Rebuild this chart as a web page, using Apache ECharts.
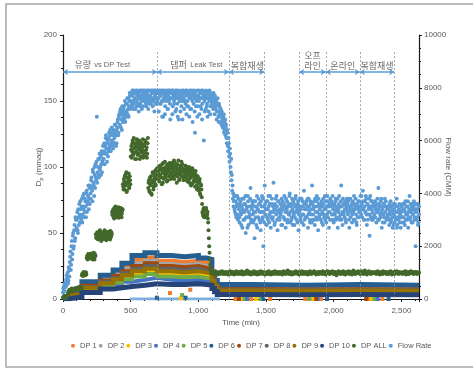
<!DOCTYPE html>
<html><head><meta charset="utf-8">
<script src="https://cdn.jsdelivr.net/npm/echarts@6/dist/echarts.min.js"></script>
<style>html,body{margin:0;padding:0;background:#fff}#c{width:473px;height:368px}</style>
</head><body><div id="c"></div>
<script>
// ---------- DATA ----------
const xTicks = [0, 500, 1000, 1500, 2000, 2500];
const sampleStep = 5;      // minutes between samples
const halfOffset = 2.5;    // second sample set is taken half-way between

// Flow rate (CMM), samples at t = 0, 5, 10, ...
const flowCMM = [
250,450,300,600,450,750,550,1000,700,1100,1400,1800,1300,2200,1700,2500,2000,2800,2300,3000,
2700,3300,2500,3100,3600,2900,3400,3000,3800,3200,3500,4000,3300,3700,3100,4100,3600,3900,3400,4200,
4300,3800,4600,4100,4900,4400,3900,4700,5100,4500,6900,4800,5300,4600,5500,5000,4700,5600,5200,5800,
5300,5900,5500,6100,5700,5200,6000,5600,6300,5800,6200,5900,6500,6000,5700,6400,6100,6600,6200,5900,
6500,6800,6300,7000,6600,7200,6800,6400,7100,6900,7300,7000,6700,7400,7100,7600,7200,6900,7500,7700,
7500,7800,7300,7700,7900,7400,7600,7200,7800,7500,7900,7600,7100,7700,7400,7900,7600,7800,7300,7700,
7900,7500,7700,7300,7800,7600,7200,7900,7500,7700,7400,7800,7600,7900,7500,7100,7700,7900,7400,7800,
7900,7600,7800,7400,7700,7900,7500,7800,6900,7600,7900,7300,7700,7500,7800,7200,7900,7600,7400,7800,
7600,7900,7300,7700,7500,7800,7100,7600,7900,7400,7700,6800,7500,7800,7600,7300,7900,7700,7500,7200,
7800,7400,7700,7900,7500,7300,7800,7600,7200,7700,7900,7500,7800,7400,7600,6300,7700,7500,7900,7300,
7700,7500,7800,7300,7600,7900,7400,7700,6000,7500,7800,7200,7600,7400,7800,7100,7500,7700,7300,7600,
7400,7700,7200,7500,7000,7600,7300,6800,7400,7100,6700,7300,6900,7200,6600,7000,6500,6900,6300,6700,
6200,6600,5900,6300,5600,5900,5200,5500,4800,4500,4100,3800,3500,3900,3300,3700,3100,3600,3200,3800,
3400,2900,3700,3200,3500,2700,3300,3800,3000,3600,2500,3400,3100,3900,2800,3500,3200,4200,3000,3400,
3600,2900,3300,2300,3700,3100,3500,2700,3400,3800,3000,3600,2600,3300,3900,3100,2000,3500,4300,3200,
3400,2800,3700,3000,3500,3200,3900,2700,3300,3600,3100,4400,3400,2900,3800,3200,3500,2600,3700,3300,
3000,3600,3300,3800,2800,3400,3100,3900,3500,2700,3300,3700,3000,3600,3200,4000,2900,3500,3100,3400,
3700,3200,2800,3500,3900,3000,3400,3600,2600,3300,3800,3100,3500,2900,3700,3200,4100,3000,3400,3600,
3100,3500,2700,3800,3300,2900,3600,3200,4300,3000,3400,3700,2800,3500,3100,3900,3300,2600,3600,3200,
3500,3000,3700,3300,2800,3600,3100,3900,3400,2900,3200,3700,3500,2700,3300,3800,3000,3600,3200,3400,
2900,3600,3300,3800,3100,3500,2700,3400,3900,3000,3200,4300,3500,2800,3600,3300,3100,3700,2900,3400,
3600,3200,3800,2700,3400,3100,3500,2900,3700,3300,3900,3000,3500,3200,2800,3600,3400,3100,3700,3300,
3500,3900,3100,4100,3400,3000,3700,3300,3800,2800,3600,3200,3500,2400,3900,3100,3400,3700,3000,3500,
3200,3700,3400,2900,3600,3300,4200,3000,3500,3100,3800,2700,3400,3200,3600,2900,3300,3700,3000,3400,
3100,3500,2800,3300,3700,3000,3400,2700,3600,3200,2900,3500,3100,3800,2800,3300,3000,3600,3200,2700,
3300,2900,3600,3100,3400,2800,3700,3200,3000,3500,2700,3300,3900,3100,3400,2900,3600,3200,3500,3000,
3400,2000,3300,3100,3600,2900,3200
];
// Flow rate (CMM), samples at t = 2.5, 7.5, 12.5, ...
const flowCMMHalf = [
400,300,550,500,650,900,800,600,1200,850,1600,1100,2000,1500,2400,1900,2600,2200,3100,2600,
3000,2600,3400,2800,3200,3700,3100,3500,2900,3900,3400,3100,3800,3500,4000,3300,3700,4300,3800,3600,
4000,4500,4200,3700,4800,4300,5000,4200,4600,5200,4400,5000,4700,5300,4900,5400,5100,4800,5500,5300,
5600,5100,5800,6200,5500,5900,5400,6100,5700,6400,5600,6000,6300,5800,6200,5900,6600,6300,5800,6400,
6700,6200,6900,6600,7100,6500,7000,7300,6700,7200,6800,7500,7100,6900,7400,7000,7600,7300,7800,7200,
7700,7400,7900,7500,7200,7800,7500,7900,7300,7700,7400,7800,7600,7300,7900,7500,7200,7700,7900,7500,
7600,7800,7400,7900,7500,7700,7900,7400,7700,7600,7900,7500,7300,7800,7600,7900,7400,7600,7800,7500,
7800,7100,7900,7700,7400,7800,6900,7900,7500,7700,7000,7800,7600,7900,7200,7700,7500,7900,6800,7600,
7800,7000,7900,7600,7400,7700,7900,7200,7800,6900,7600,7900,7700,7100,7800,7500,6800,7900,7600,7800,
7500,7900,7000,7300,7800,7700,6900,7900,7600,7200,7800,6700,7700,7900,7100,7800,7300,7600,6900,7700,
7900,7000,7600,7800,7200,6800,7900,7600,7800,7100,7700,7900,7300,6900,7700,7600,7900,7000,7800,7500,
7600,7300,7800,7400,7700,7200,7500,7100,7600,6900,7400,7000,7200,6700,7100,6800,6600,7000,6400,6800,
6500,6100,6400,5800,6100,5400,5700,5000,5300,4700,4300,4000,3700,3400,3900,3200,3500,3900,3000,3500,
3100,3600,3300,2800,3800,3400,3000,3600,3300,3900,3100,3500,2700,3700,3300,3100,3800,2900,3500,3700,
3200,3700,3000,3500,3300,2800,3900,3400,3100,3600,3300,2900,3700,3500,3000,3800,3300,2900,3600,3400,
3700,3100,3400,3900,2900,3600,3300,3100,3800,3000,3500,3300,2800,3600,3400,3900,3000,3300,3700,3100,
3400,3200,2800,3500,3700,3100,3600,3000,3300,3800,3400,2900,3500,3200,3900,3300,3600,3000,3800,2800,
3300,3600,3100,3800,3300,3500,2900,3700,3200,3500,3000,3400,3800,3200,3500,2800,3600,3400,3100,3700,
3400,3800,3200,3500,3000,3700,3400,2900,3600,3200,3500,3000,3800,3300,3700,3000,3500,3800,3100,3400,
3200,3600,2900,3500,3800,3200,3400,3000,3700,3500,3900,3100,3300,3600,3000,3500,3700,3200,3900,3000,
3500,3200,3700,3000,3400,3800,3300,3600,3100,3500,3700,3000,3300,3800,3200,3600,3400,3000,3500,3800,
3300,3700,3000,3500,3800,3300,3600,3200,3400,3000,3600,3400,3800,2900,3500,3100,3700,3300,3500,3900,
3200,3600,3400,3700,3000,3500,3300,3900,3200,3600,3000,3400,3800,3200,3500,3700,3000,3300,3600,3100,
3600,3100,3500,3300,3800,3000,3400,3600,3200,3700,3300,3500,2900,3600,3100,3800,3500,3100,3500,3200,
3400,3000,3600,3200,2900,3500,3100,3300,2800,3400,3600,3000,3300,2700,3500,3100,3400,2900,3300,3100,
3500,3100,3400,2900,3600,3300,3000,3500,3200,3700,3100,3400,3000,3600,3300,3500,2900,3400,3700,3100,
3300,3600,3000,3400,2800,3500
];
// Flow rate readings stuck at zero (start, end minutes)
const flowZeroSpan = [495, 1160];

// DP ALL (mmaq), samples at t = 0, 5, 10, ...
const dpAll = [
1,1.5,2,1,2,1.5,2.5,3,5,6,5.5,7,6,8,6.5,7.5,6,7,8,7,
7.5,8,7,8.5,8,9,8,9,18,19.5,18.5,20,19,18,20,31,33,30.5,34,32,
33,31,34.5,32,30,33.5,31.5,34,32.5,47,49,45.5,50,48,46,51,47.5,49.5,45,48.5,
50.5,46.5,48,51,44.5,49,47,50,46,48.5,51.5,47,49,64,67,62,69,65,63,68,
66,62.5,69.5,64,67.5,63,66.5,64.5,68,85,91,83,94,87,81,92,89,95,84,90,
108,116,112,120,109,114,118,111,106,121,115,110,117,113,119,108,115,112,121,109,
116,111,119,113,107,118,84,90,81,87,93,79,88,95,85,91,97,86,94,99,
92,97,89,101,94,99,87,96,103,91,98,93,100,95,102,90,97,99,94,101,
96,103,92,99,105,94,100,97,88,102,95,98,91,101,96,104,93,99,90,97,
95,101,92,98,89,96,100,91,97,86,94,99,88,95,92,85,97,90,83,93,
88,82,91,79,86,77,66,63,69,64,68,62,67,64,61,52,40,30,23,20.5,
20,19.5,20.5,19,20,21,19.5,20,18.5,20,19.5,20.5,19,20,19.5,21,20,19,20.5,19.5,
19,20,20.5,19.5,18.5,20,19.5,21,20,19,19.5,20.5,20,18.5,19.5,20,21,19.5,19,20,
20.5,19.5,19,20,21,19.5,18.5,20,19.5,20.5,19,20,21.5,19.5,20,19,20.5,19.5,18.5,20,
19.5,20,21,19,20.5,19.5,20,18.5,19.5,20.5,20,19,21,19.5,20,20.5,19,19.5,20,18.5,
20,19.5,20.5,19,21,20,19.5,18.5,20,19.5,20.5,19,20,21,19.5,20,19,20.5,19.5,20,
19,20.5,19.5,20,18.5,20,21,19.5,20,19,20.5,19.5,21.5,20,19,19.5,20.5,20,18.5,19.5,
20,19,20.5,19.5,21,20,19.5,19,20.5,18.5,20,19.5,20,21,19,20.5,19.5,20,19,20.5,
19.5,20,18.5,20.5,19.5,21,20,19,20,19.5,20.5,21,19.5,20,18.5,19.5,20,20.5,19,20,
20.5,19.5,20,19,21,19.5,20,20.5,18.5,19.5,20,21,19.5,20,19,20.5,19.5,20,21,19.5,
19,20,20.5,19.5,18,20,19.5,21,20,19.5,19,20.5,20,19.5,21,19,20,18.5,20.5,19.5,
20,19.5,21,19,20,20.5,19.5,18.5,20,21.5,19.5,20,19,20.5,19.5,20,21,19.5,20,19,
20.5,21,19.5,20,19,20.5,21.5,19.5,20,18.5,20,19.5,21,20,19.5,19,20.5,20,19.5,20,
19.5,20,20.5,19,20,21,19.5,20,18.5,19.5,20.5,20,19,21,19.5,20,19.5,20.5,19,20,
20,19,20.5,19.5,21,20,18.5,19.5,20,20.5,19,20,19.5,21,20,19.5,19,20.5,20,19.5,
19.5,20,19,20.5,20,19.5,21,18.5,20,19.5,20.5,19,20,19.5,21,20,19.5,20,19,20.5,
20,19.5,20.5,19,20,19.5,20
];
// DP ALL (mmaq), samples at t = 2.5, 7.5, ... up to 1097.5
const dpAllHalf = [
1.5,1,2.5,1.5,1,2,2,4,5.5,7,6.5,6,7.5,5.5,7,6.5,8,6,7.5,8,
8.5,7,8,9,7.5,8.5,9,8,19,17.5,20.5,18,19.5,20,18.5,32,30,34,31.5,33,
31,34,30.5,33,32,35,30,33,49,46,50.5,48,45,49.5,52,47,44,50,48.5,46.5,
48,52,45.5,49.5,47.5,50,46,51,49,45,48,50.5,66,63.5,68,61,66.5,70,64,62,
64.5,68.5,61.5,66,63.5,69,62,67,87,83,89,93,86,96,82,88,91,85,93,87,
113,107,118,110,122,115,106,117,112,119,109,114,120,106,116,111,118,113,107,117,
112,120,108,115,110,122,88,82,92,86,80,90,96,83,89,93,87,98,91,95,
95,90,100,93,98,92,102,88,99,95,104,92,97,89,98,100,93,103,96,91,
99,94,101,97,91,103,95,100,93,98,105,90,99,94,100,97,102,92,98,95,
98,93,100,90,97,94,88,99,92,96,87,98,93,90,96,89,94,86,91,88,
84,89,80,87,83,72,65,68,62,67,64,69,63,66,58,46,35,26,21.5,19.5
];

// DP 1..10 band levels (mmaq), each held from its time until the next time
const dpTimes = [0,45,140,275,370,435,510,605,694,800,900,1000,1060,1100,1120,1140,1400,1800,2200,2630];
const dp1  = [0.8,4.5,11.5,16,20,24.5,29.5,31.5,29,28,29,27.5,26.5,18,12.5,9,8.7,9,8.7,8.8];
const dp2  = [0.7,4,10.5,15,18.5,22.5,27,29,26.5,25.5,26.5,25,24,16.5,11.5,8,7.8,8,7.8,7.9];
const dp3  = [0.4,2.7,8,11,13.5,16.5,19,21,19,18,19,18,17.5,12.5,9,6,5.8,6,5.8,5.9];
const dp4  = [0.3,2,6.5,9,11,13,14.5,16,14.5,14,14.5,14,13.5,10,7,4.8,4.6,4.7,4.6,4.6];
const dp5  = [0.4,2.4,7,10,12.5,15,17,19,17,16.5,17,16,15.5,11.5,8,5.5,5.3,5.5,5.3,5.4];
const dp6  = [1,5,13,18,22,27,33,35,33,32,33,31,30,20,14,11,10.5,11,10.5,10.5];
const dp7  = [0.6,3.8,10,14,17.5,21,25,27,25,24,25,23.5,22.5,15.5,10.5,7.5,7.2,7.4,7.2,7.3];
const dp8  = [0.5,3.4,9,13,16,19.5,23,25,23,22,23,21.5,21,14.5,10,7,6.7,6.9,6.7,6.8];
const dp9  = [0.5,3,8.5,12,15,18,21,23,21,20,21,20,19,13.5,9.5,6.5,6.3,6.4,6.3,6.3];
const dp10 = [0.2,1.5,5,7.5,8.5,9.5,10.5,11.5,11,11,11.5,11,10.5,8,5.5,3.5,3.3,3.4,3.3,3.4];

// stray DP readings [minute, mmaq]
const dp1Out = [[790,4.5],[940,7],[1275,0],[1390,0],[1530,0],[1790,0],[1905,0],[2265,0],[2360,0]];
const dp3Out = [[870,0.5],[1320,0],[1425,0],[1850,0],[2280,0]];
const dp5Out = [[880,3],[1340,0],[1460,0],[1820,0],[2300,0]];
const dp4Out = [[1360,0],[1880,0],[2325,0]];
const dp6Out = [[694,1],[905,1],[1480,0],[1950,0],[2405,0]];
const dp7Out = [[1300,0],[1870,0],[2240,0]];

// annotations
const sectionLines = [694, 1226, 1487, 1745, 1942, 2193, 2447];
const arrowSpans = [[0,694],[694,1226],[1226,1487],[1745,1942],[1942,2193],[2193,2447]];
const arrowLevel = 172;
const dashTop = 187;
const sectionLabels = ['{k|유량} {e|vs DP Test}', '{k|댐퍼} {e|Leak Test}', '{k|복합재생}', '{k|오프}\n{k|라인}', '{k|온라인}', '{k|복합재생}'];
const sectionLabelTimes = [290, 985, 1362, 1843, 2067, 2320];

// ---------- CHART ----------
const LAT = "'Liberation Sans','Noto Sans CJK KR',sans-serif";
const KR = "'Noto Sans CJK KR','Liberation Sans',sans-serif";
const C = {
  'DP 1':'#ED7D31','DP 2':'#A5A5A5','DP 3':'#FFC000','DP 4':'#4472C4','DP 5':'#70AD47',
  'DP 6':'#255E91','DP 7':'#9E480E','DP 8':'#636363','DP 9':'#997300','DP 10':'#264478',
  'DP ALL':'#43682B','Flow Rate':'#5B9BD5'
};
const dpArrays = [['DP 1',dp1],['DP 2',dp2],['DP 3',dp3],['DP 4',dp4],['DP 5',dp5],
  ['DP 6',dp6],['DP 7',dp7],['DP 8',dp8],['DP 9',dp9],['DP 10',dp10]];
const outArrays = [['DP 1',dp1Out],['DP 3',dp3Out],['DP 5',dp5Out],['DP 4',dp4Out],['DP 6',dp6Out],['DP 7',dp7Out]];

const series = [];
dpArrays.forEach(([name, vals]) => {
  series.push({
    type:'line', name, step:'end', showSymbol:false, yAxisIndex:0,
    data: dpTimes.map((t,i)=>[t, vals[i]]),
    itemStyle:{color:C[name]},
    lineStyle:{color:C[name], width:(name==='DP 6'||name==='DP 10')?5:4, cap:'butt', join:'miter'},
    emphasis:{disabled:true}, z:2
  });
});
outArrays.forEach(([name, pts]) => {
  series.push({
    type:'scatter', name, yAxisIndex:0, data: pts, symbol:'rect', symbolSize:4,
    itemStyle:{color:C[name], opacity:1}, z:3, silent:true
  });
});
const dpAllPts = dpAll.map((v,i)=>[i*sampleStep, v]).concat(dpAllHalf.map((v,i)=>[halfOffset+i*sampleStep, v]));
series.push({
  type:'scatter', name:'DP ALL', yAxisIndex:0, symbolSize:4,
  data: dpAllPts,
  itemStyle:{color:C['DP ALL'], opacity:1}, z:4,
  markLine:{
    silent:true, animation:false, symbol:'none', label:{show:false},
    lineStyle:{type:[2,2], color:'#8c8c8c', width:0.8},
    data: sectionLines.map(t=>[{coord:[t,dashTop]},{coord:[t,0]}])
  }
});
series.push({
  type:'line', name:'Flow Zero', yAxisIndex:1, showSymbol:false,
  data: flowZeroSpan.map(t=>[t,0]),
  lineStyle:{color:'#7CAFDD', width:3}, itemStyle:{color:'#7CAFDD'}, z:3, silent:true
});
const flowPts = flowCMM.map((v,i)=>[i*sampleStep, v]).concat(flowCMMHalf.map((v,i)=>[halfOffset+i*sampleStep, v]));
series.push({
  type:'scatter', name:'Flow Rate', yAxisIndex:1, symbolSize:4,
  data: flowPts,
  itemStyle:{color:C['Flow Rate'], opacity:1}, z:5
});
series.push({
  type:'scatter', name:'annot', yAxisIndex:0, symbolSize:0, silent:true, z:6,
  data: sectionLabelTimes.map((t,i)=>({value:[t, arrowLevel], name:sectionLabels[i]})),
  label:{
    show:true, position:'top', distance:1,
    formatter:(p)=>p.name,
    rich:{
      k:{fontSize:9, fontFamily:KR, color:'#404040', lineHeight:10},
      e:{fontSize:7.5, fontFamily:LAT, color:'#404040'}
    }
  },
  markLine:{
    silent:true, animation:false, symbol:['arrow','arrow'], symbolSize:5,
    label:{show:false},
    lineStyle:{type:'solid', color:'#5B9BD5', width:1.5},
    data: arrowSpans.map(s=>[{coord:[s[0],arrowLevel]},{coord:[s[1],arrowLevel]}])
  }
});

const axisCommon = {
  axisLine:{show:true, lineStyle:{color:'#1a1a1a', width:1.2}},
  axisTick:{show:true, length:3, lineStyle:{color:'#1a1a1a'}},
  minorTick:{show:true, splitNumber:4, length:2, lineStyle:{color:'#1a1a1a'}},
  splitLine:{show:false},
  nameMoveOverlap:false,
  axisLabel:{fontSize:8, color:'#595959', fontFamily:LAT}
};

const chart = echarts.init(document.getElementById('c'), null, {renderer:'canvas'});
chart.setOption({
  animation:false,
  backgroundColor:'#ffffff',
  textStyle:{fontFamily:LAT},
  grid:{left:63, right:54, top:35, bottom:69, containLabel:false},
  graphic:[{type:'rect', shape:{x:6, y:4, width:500, height:363}, style:{fill:'none', stroke:'#a6a6a6', lineWidth:1.5}, silent:true}],
  legend:{
    data:['DP 1','DP 2','DP 3','DP 4','DP 5','DP 6','DP 7','DP 8','DP 9','DP 10','DP ALL','Flow Rate'],
    icon:'circle', itemWidth:4, itemHeight:4, itemGap:2,
    top:337, left:66,
    textStyle:{fontSize:7.5, color:'#595959', fontFamily:LAT}
  },
  xAxis:Object.assign({}, axisCommon, {
    type:'value', min:xTicks[0], max:2630, interval:500,
    minorTick:{show:true, splitNumber:5, length:2, lineStyle:{color:'#1a1a1a'}},
    axisLabel:Object.assign({}, axisCommon.axisLabel, {margin:8, showMaxLabel:false}),
    name:'Time (min)', nameLocation:'middle', nameGap:20,
    nameTextStyle:{fontSize:8, color:'#595959', fontFamily:LAT}
  }),
  yAxis:[
    Object.assign({}, axisCommon, {
      type:'value', min:0, max:200, interval:50, position:'left',
      axisLabel:Object.assign({}, axisCommon.axisLabel, {margin:6}),
      name:'{a|D}{s|p}{a| (mmaq)}', nameLocation:'middle', nameGap:19,
      nameTextStyle:{color:'#595959', rich:{a:{fontSize:8, fontFamily:LAT, color:'#595959'}, s:{fontSize:6, fontFamily:LAT, color:'#595959', padding:[4,0,0,0]}}}
    }),
    Object.assign({}, axisCommon, {
      type:'value', min:0, max:10000, interval:2000, position:'right',
      axisLabel:Object.assign({}, axisCommon.axisLabel, {margin:5, formatter:(v)=>String(v)}),
      name:'Flow rate (CMM)', nameLocation:'middle', nameGap:25, nameRotate:-90,
      nameTextStyle:{fontSize:8, color:'#595959', fontFamily:LAT}
    })
  ],
  series
});
</script></body></html>
